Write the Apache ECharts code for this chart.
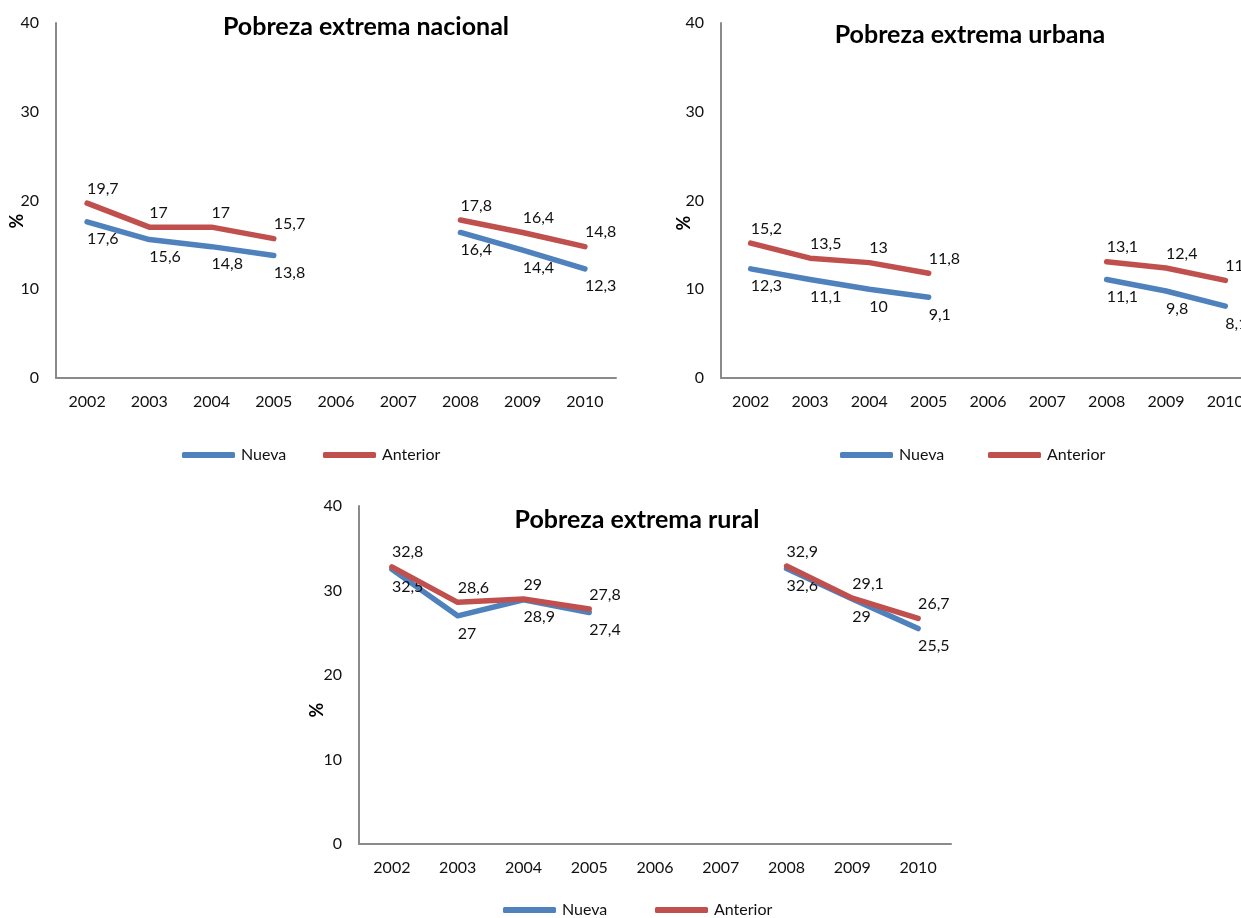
<!DOCTYPE html>
<html>
<head>
<meta charset="utf-8">
<title>Pobreza extrema</title>
<script src="https://cdn.jsdelivr.net/npm/echarts@6/dist/echarts.min.js"></script>
<style>
  html, body { margin: 0; padding: 0; background: #ffffff; }
  #chart { width: 1241px; height: 918px; }
</style>
</head>
<body>
<div id="chart"></div>
<script>
// Years on the horizontal axis (2006 and 2007 have no estimate)
const years = ['2002', '2003', '2004', '2005', '2006', '2007', '2008', '2009', '2010'];

// Extreme poverty rates (%), new and previous methodology
const nacionalNueva    = [17.6, 15.6, 14.8, 13.8, null, null, 16.4, 14.4, 12.3];
const nacionalAnterior = [19.7, 17, 17, 15.7, null, null, 17.8, 16.4, 14.8];
const urbanaNueva      = [12.3, 11.1, 10, 9.1, null, null, 11.1, 9.8, 8.1];
const urbanaAnterior   = [15.2, 13.5, 13, 11.8, null, null, 13.1, 12.4, 11];
const ruralNueva       = [32.5, 27, 28.9, 27.4, null, null, 32.6, 29, 25.5];
const ruralAnterior    = [32.8, 28.6, 29, 27.8, null, null, 32.9, 29.1, 26.7];

const titles = ['Pobreza extrema nacional', 'Pobreza extrema urbana', 'Pobreza extrema rural'];
const seriesNames = ['Nueva', 'Anterior'];

const FONT = 'Lato, "Open Sans", sans-serif';
const BLUE = '#4f81bd';
const RED = '#c0504d';
const AXIS = '#8a8a8a';
const TEXT = '#111111';

const fmt = (v) => String(v).replace('.', ',');

// Panel layout: plot area, title centre, "%" label, legend item positions.
// The urban panel runs past the right edge of the page.
const panels = [
  { grid: { left: 56, top: 23, width: 560, height: 355 }, title: [366, 27], pct: [17, 221],
    legend: [[182, 447], [323, 447]], data: [nacionalNueva, nacionalAnterior] },
  { grid: { left: 721, top: 23, width: 534, height: 355 }, title: [970, 35], pct: [684, 223],
    legend: [[840, 447], [988, 447]], data: [urbanaNueva, urbanaAnterior] },
  { grid: { left: 359, top: 506, width: 592, height: 338 }, title: [637, 520], pct: [317, 710],
    legend: [[503, 902], [655, 902]], data: [ruralNueva, ruralAnterior] }
];

const option = {
  backgroundColor: '#ffffff',
  animation: false,
  textStyle: { fontFamily: FONT },
  title: [],
  grid: [],
  xAxis: [],
  yAxis: [],
  legend: [],
  series: [],
  graphic: []
};

panels.forEach((p, i) => {
  option.title.push({
    text: titles[i],
    left: p.title[0],
    top: p.title[1],
    padding: 0,
    textAlign: 'center',
    textVerticalAlign: 'middle',
    textStyle: { fontFamily: FONT, fontWeight: 'bold', fontSize: 25, color: '#000' }
  });
  option.grid.push(Object.assign({ containLabel: false, outerBoundsMode: 'none' }, p.grid));
  option.xAxis.push({
    type: 'category',
    gridIndex: i,
    data: years,
    boundaryGap: true,
    axisLine: { lineStyle: { color: AXIS, width: 2 } },
    axisTick: { show: false },
    axisLabel: { color: TEXT, fontSize: 16, margin: 16, fontFamily: FONT, interval: 0 },
    splitLine: { show: false }
  });
  option.yAxis.push({
    type: 'value',
    gridIndex: i,
    min: 0,
    max: 40,
    interval: 10,
    axisLine: { show: true, lineStyle: { color: AXIS, width: 2 } },
    axisTick: { show: false },
    axisLabel: { color: TEXT, fontSize: 16, margin: 17, fontFamily: FONT },
    splitLine: { show: false }
  });
  const colors = [BLUE, RED];
  seriesNames.forEach((name, k) => {
    option.series.push({
      name: name,
      type: 'line',
      xAxisIndex: i,
      yAxisIndex: i,
      data: p.data[k],
      connectNulls: false,
      showSymbol: true,
      symbol: 'circle',
      symbolSize: 1,
      itemStyle: { color: colors[k] },
      color: colors[k],
      lineStyle: { color: colors[k], width: 5.5, cap: 'round', join: 'round' },
      z: 2 + k,
      label: {
        show: true,
        position: k === 0 ? 'bottom' : 'top',
        distance: k === 0 ? 9 : 6,
        align: 'left',
        offset: [-2, 0],
        color: TEXT,
        fontSize: 16,
        fontFamily: FONT,
        formatter: (d) => fmt(d.value)
      },
      labelLayout: { hideOverlap: false }
    });
    option.legend.push({
      data: [name],
      left: p.legend[k][0],
      top: p.legend[k][1],
      padding: 0,
      selectedMode: false,
      icon: 'roundRect',
      itemWidth: 53,
      itemHeight: 6,
      itemGap: 0,
      textStyle: { color: TEXT, fontSize: 16, fontFamily: FONT, padding: [0, 0, 0, 1] }
    });
  });
  option.graphic.push({
    type: 'text',
    x: p.pct[0],
    y: p.pct[1],
    rotation: Math.PI / 2,
    style: {
      text: '%',
      fontSize: 18,
      fontWeight: 'bold',
      fontFamily: FONT,
      fill: '#000',
      align: 'center',
      verticalAlign: 'middle'
    }
  });
});

const chart = echarts.init(document.getElementById('chart'), null, { renderer: 'canvas' });
chart.setOption(option);
</script>
</body>
</html>
